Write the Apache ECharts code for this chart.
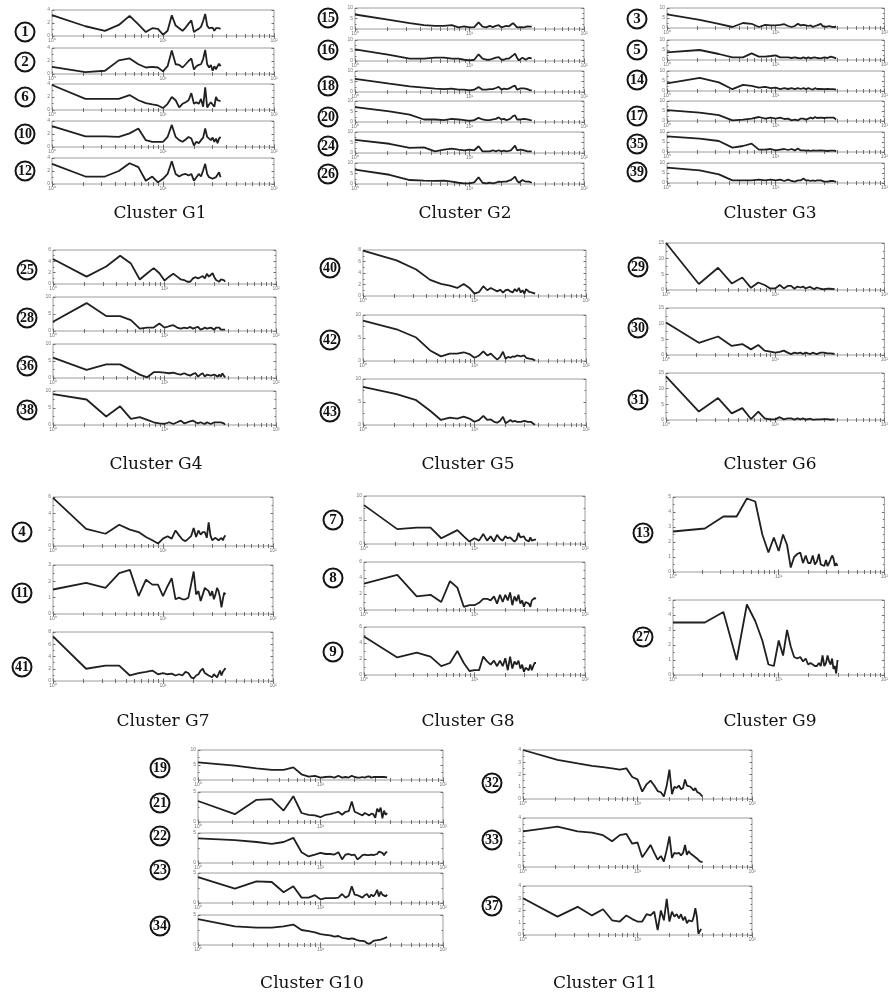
<!DOCTYPE html>
<html>
<head>
<meta charset="utf-8">
<script src="https://cdn.jsdelivr.net/npm/echarts@6/dist/echarts.min.js"></script>
<style>
  html, body { margin: 0; padding: 0; background: #fff; }
  #chart { width: 891px; height: 996px; }
</style>
</head>
<body>
<div id="chart"></div>
<script>
/* ----------------------------- data ----------------------------- */
// frequency index (log axis, 10^0 .. 10^2)
const freqs = [1, 2, 3, 4, 5, 6, 7, 8, 9, 10, 11, 12, 13, 14, 15, 16, 17, 18, 19, 20,
  21, 22, 23, 24, 25, 26, 27, 28, 29, 30, 31, 32, 33, 34, 35, 36, 37];

const xTickLabels = ['10\u2070', '10\u00b9', '10\u00b2'];

// Cluster G1
const p1 = [3.2, 1.5, 0.8, 1.7, 3.1, 1.8, 0.6, 1.2, 1.1, 0.2, 0.8, 3.2, 1.6, 1.2, 0.8, 1.3, 1.9, 2.4, 0.6, 0.9, 1.1, 1.4, 2.3, 3.4, 1.6, 1.2, 0.9, 1.3, 0.8, 1.2, 1.0, 1.2, 1.1];
const p2 = [1.1, 0.3, 0.5, 2.1, 2.4, 1.5, 1.0, 1.1, 1.0, 0.4, 1.2, 3.6, 1.5, 1.4, 1.0, 1.5, 2.0, 2.4, 0.7, 1.2, 1.4, 1.5, 2.3, 3.7, 1.5, 1.0, 1.4, 0.5, 1.2, 0.7, 1.2, 1.6, 1.2];
const p6 = [3.85, 1.7, 1.7, 1.7, 2.3, 1.5, 1.05, 0.85, 0.7, 0.3, 0.95, 2.0, 1.5, 0.4, 0.95, 1.2, 1.5, 2.6, 0.95, 1.2, 0.95, 1.7, 0.5, 3.5, 0.4, 0.85, 1.2, 1.05, 0.5, 2.0, 1.5, 1.2, 1.35];
const p10 = [3.2, 1.65, 1.65, 1.55, 2.1, 2.85, 1.05, 0.8, 0.8, 0.8, 1.55, 3.4, 1.55, 1.05, 0.8, 1.15, 1.55, 1.3, 0.25, 0.8, 0.6, 1.05, 1.45, 2.85, 1.55, 1.65, 1.05, 1.45, 0.8, 1.3, 0.6, 1.3, 1.55];
const p12 = [3.1, 1.15, 1.15, 2.0, 3.2, 2.6, 0.5, 1.15, 0.25, 0.8, 1.55, 3.5, 1.55, 1.15, 1.45, 1.55, 1.3, 1.55, 0.5, 1.05, 1.55, 1.15, 2.1, 3.1, 1.55, 1.05, 1.05, 0.8, 0.6, 1.05, 0.95, 1.8, 1.05];

// Cluster G2
const p15 = [6.9, 4.3, 2.8, 1.8, 1.5, 1.5, 1.8, 0.8, 1.2, 0.8, 0.9, 3.1, 1.1, 0.8, 1.5, 0.9, 1.5, 1.8, 0.8, 1.1, 1.5, 1.2, 2.0, 2.8, 1.8, 0.8, 1.2, 0.9, 1.5, 0.8, 1.5, 1.2, 1.5, 1.1, 1.1];
const p16 = [5.5, 2.9, 1.1, 1.1, 1.6, 1.6, 1.1, 1.1, 0.6, 0.3, 0.6, 3.2, 1.1, 0.6, 0.6, 1.1, 1.6, 1.9, 0.6, 0.6, 1.1, 1.1, 1.9, 2.7, 3.5, 1.6, 0.3, 0.6, 1.6, 0.9, 0.6, 1.3, 1.5, 1.3, 1.3];
const p18 = [6.3, 4.0, 2.7, 2.1, 1.6, 1.4, 1.6, 1.1, 1.1, 0.8, 1.1, 2.4, 1.1, 1.1, 1.4, 1.4, 1.9, 2.4, 1.1, 1.6, 1.4, 1.6, 2.1, 2.7, 3.0, 1.1, 1.4, 1.7, 2.1, 1.7, 1.6, 1.4, 1.1, 0.8, 0.8];
const p20 = [7.1, 5.1, 3.5, 1.2, 1.2, 0.9, 1.5, 1.2, 0.9, 0.5, 0.9, 2.0, 1.2, 0.9, 0.9, 1.2, 1.5, 2.2, 1.2, 1.5, 0.9, 1.2, 1.8, 2.8, 3.2, 1.2, 0.9, 1.2, 1.8, 1.5, 2.0, 1.2, 0.9, 0.9, 0.8];
const p24 = [6.3, 4.4, 2.4, 2.7, 0.8, 1.6, 2.1, 1.6, 1.3, 1.6, 1.3, 3.2, 0.8, 0.8, 0.8, 1.3, 0.8, 1.3, 0.8, 1.1, 0.8, 1.0, 1.3, 2.4, 3.5, 1.3, 0.8, 1.6, 2.4, 1.3, 0.6, 0.8, 1.3, 0.8, 0.8];
const p26 = [6.8, 4.4, 1.9, 1.6, 1.5, 1.6, 1.1, 0.6, 0.3, 0.3, 0.8, 3.2, 0.6, 0.3, 0.6, 0.3, 0.6, 1.1, 1.0, 1.1, 1.1, 1.6, 1.9, 2.7, 3.5, 1.6, 0.6, 1.1, 1.9, 2.7, 1.1, 1.9, 1.1, 0.6, 0.6];

// Cluster G3
const p3 = [6.8, 4.1, 2.1, 0.5, 2.5, 2.1, 0.5, 1.6, 1.3, 1.3, 1.6, 1.9, 1.0, 0.5, 1.0, 2.1, 1.3, 1.6, 1.3, 1.0, 1.3, 0.5, 1.0, 1.3, 1.0, 2.1, 1.0, 1.3, 0.6, 1.3, 1.0, 1.6, 0.6, 1.0, 0.5, 0.8];
const p5 = [3.8, 5.0, 3.0, 1.3, 1.3, 3.3, 1.7, 1.7, 2.0, 2.3, 1.3, 1.3, 1.3, 1.0, 1.3, 1.0, 0.8, 1.3, 0.8, 1.3, 0.8, 1.2, 1.3, 1.0, 2.0, 0.8, 1.7, 1.3, 0.7, 1.0, 0.8, 1.7, 1.0, 1.3, 0.7, 0.8];
const p14 = [3.8, 6.6, 4.3, 0.9, 3.1, 2.6, 1.7, 2.1, 1.4, 1.7, 0.9, 1.4, 1.0, 1.4, 0.9, 1.4, 1.0, 1.4, 0.9, 1.4, 1.0, 0.7, 1.4, 1.0, 1.7, 1.0, 1.4, 0.9, 0.7, 1.0, 0.5, 0.9, 0.7, 0.9, 0.5, 0.7];
const p17 = [5.4, 4.2, 2.9, 0.3, 0.7, 1.2, 2.0, 1.2, 1.7, 1.2, 1.7, 1.0, 1.2, 0.3, 0.7, 0.3, 1.2, 1.2, 0.7, 1.2, 1.7, 1.2, 2.0, 1.5, 1.2, 1.7, 2.0, 1.5, 1.0, 1.7, 2.0, 1.7, 1.2, 1.7, 1.0, 0.8];
const p35 = [7.8, 6.7, 5.5, 2.2, 3.0, 4.2, 1.2, 1.2, 1.5, 0.8, 1.2, 1.5, 1.0, 1.5, 0.8, 1.7, 0.8, 0.8, 0.7, 0.8, 0.5, 0.8, 0.7, 0.7, 0.5, 0.8, 0.7, 0.7, 0.7, 0.5, 0.7, 0.7, 0.5, 0.7, 0.5, 0.5];
const p39 = [7.7, 6.3, 4.3, 1.3, 1.3, 1.3, 1.7, 1.3, 1.7, 1.3, 1.7, 1.0, 1.7, 1.0, 0.7, 1.3, 1.3, 2.2, 1.3, 1.3, 1.0, 1.3, 1.0, 1.3, 0.8, 1.3, 1.2, 0.7, 1.3, 0.7, 1.3, 1.0, 0.5, 1.0, 0.7, 0.5];

// Cluster G4
const p25 = [4.4, 1.3, 3.1, 5.0, 3.6, 0.8, 1.9, 2.8, 1.9, 0.6, 1.3, 1.8, 1.3, 0.8, 0.7, 0.4, 0.4, 1.0, 1.2, 1.0, 1.2, 1.4, 1.0, 1.8, 1.3, 1.0, 1.9, 1.2, 0.7, 1.0, 0.4, 0.8, 0.6, 0.7, 0.4];
const p28 = [2.7, 8.2, 4.4, 4.4, 3.2, 0.7, 1.0, 1.0, 2.2, 1.0, 1.4, 1.7, 1.0, 0.7, 1.0, 0.8, 1.2, 0.7, 1.0, 1.2, 0.4, 0.6, 1.0, 0.7, 0.4, 1.0, 0.6, 0.4, 1.0, 0.6, 1.0, 0.4, 0.6, 0.4, 0.4];
const p36 = [6.0, 2.4, 4.0, 4.0, 2.4, 1.0, 0.2, 1.7, 1.7, 1.6, 1.4, 1.6, 1.2, 1.0, 1.4, 1.0, 0.7, 1.2, 1.4, 0.4, 1.0, 1.4, 0.4, 1.0, 1.0, 0.7, 1.0, 1.0, 0.7, 0.4, 1.0, 0.4, 1.4, 0.7, 0.2];
const p38 = [9.1, 7.5, 2.5, 5.5, 1.8, 2.3, 1.5, 0.8, 0.5, 0.3, 0.8, 0.3, 0.8, 1.3, 0.5, 0.8, 1.1, 1.3, 0.8, 0.5, 0.8, 0.5, 0.3, 0.8, 0.5, 0.3, 0.5, 0.8, 0.5, 0.8, 0.3, 0.8, 0.3, 0.5, 0.1];

// Cluster G5
const p40 = [7.9, 6.2, 4.6, 2.8, 2.1, 1.8, 1.4, 2.1, 1.4, 0.4, 0.7, 1.7, 1.0, 1.4, 1.1, 0.8, 1.1, 0.6, 1.0, 1.1, 0.8, 0.6, 1.2, 0.8, 1.4, 0.6, 1.0, 0.4, 1.2, 1.4, 0.7, 1.0, 0.6, 0.4, 0.4];
const p42 = [8.8, 6.9, 5.1, 2.3, 1.0, 1.6, 1.6, 1.9, 1.5, 0.7, 1.2, 2.1, 1.2, 1.6, 0.9, 0.3, 0.9, 2.0, 0.5, 0.9, 0.7, 1.0, 0.9, 1.2, 0.9, 1.0, 0.7, 1.2, 0.7, 1.0, 0.5, 0.9, 0.4, 0.3, 0.1];
const p43 = [8.3, 6.7, 5.4, 3.1, 1.1, 1.6, 1.4, 1.8, 1.4, 0.7, 1.1, 2.0, 1.1, 1.2, 0.7, 0.5, 0.9, 1.8, 0.4, 0.7, 1.1, 0.7, 0.9, 0.7, 1.1, 0.7, 1.1, 0.9, 1.2, 0.7, 0.9, 0.7, 0.5, 0.2, 0.1];

// Cluster G6
const p29 = [15.0, 1.9, 7.1, 2.1, 4.0, 0.7, 2.4, 1.6, 0.5, 0.5, 1.6, 0.5, 1.3, 1.3, 0.4, 1.1, 0.8, 1.1, 0.5, 0.8, 1.0, 0.5, 0.3, 0.8, 0.8, 0.4, 0.5, 0.2, 0.7, 0.4, 0.5, 0.4, 0.6, 0.3, 0.4];
const p30 = [10.4, 3.9, 5.9, 2.9, 3.5, 1.8, 3.2, 1.4, 1.1, 0.75, 1.0, 1.4, 0.75, 0.3, 0.75, 0.5, 0.75, 0.3, 0.75, 0.5, 0.3, 0.75, 0.5, 0.3, 0.5, 0.75, 0.3, 0.75, 0.4, 0.5, 0.3, 0.5, 0.3, 0.4, 0.3];
const p31 = [13.9, 2.7, 7.0, 2.1, 3.8, 0.3, 2.7, 0.5, 0.2, 0.2, 0.9, 0.2, 0.5, 0.5, 0.1, 0.5, 0.2, 0.5, 0.1, 0.3, 0.4, 0.1, 0.1, 0.2, 0.4, 0.2, 0.1, 0.3, 0.1, 0.3, 0.2, 0.1, 0.3, 0.2, 0.2];

// Cluster G7
const p4 = [5.9, 2.1, 1.5, 2.6, 2.0, 1.7, 1.1, 0.7, 0.3, 0.9, 1.2, 0.9, 1.9, 1.3, 0.8, 0.6, 0.9, 1.2, 2.2, 1.1, 1.9, 1.4, 1.7, 1.7, 1.0, 2.9, 1.3, 0.7, 0.8, 1.0, 1.1, 0.7, 0.5, 1.0, 0.7, 1.1, 1.3];
const p11 = [1.5, 1.9, 1.6, 2.5, 2.7, 1.1, 2.1, 1.8, 1.8, 1.1, 1.7, 2.2, 0.9, 1.0, 0.9, 0.9, 1.0, 1.8, 2.6, 1.2, 1.4, 0.8, 1.2, 1.6, 1.7, 1.4, 1.1, 1.4, 0.9, 1.2, 1.6, 1.4, 1.0, 0.4, 0.9, 1.3, 1.2];
const p41 = [7.3, 2.0, 2.5, 2.5, 0.9, 1.3, 1.5, 1.7, 1.1, 1.3, 1.1, 1.2, 0.9, 1.1, 0.9, 1.5, 1.3, 0.6, 0.4, 0.9, 1.1, 1.7, 2.0, 1.3, 1.6, 0.9, 1.2, 0.6, 1.1, 0.9, 0.6, 0.4, 1.7, 0.9, 1.5, 1.3, 2.1];

// Cluster G8
const p7 = [8.1, 3.1, 3.4, 3.4, 1.2, 2.1, 2.9, 1.6, 0.5, 1.2, 0.7, 2.1, 0.7, 1.6, 0.5, 1.9, 1.1, 0.7, 1.6, 1.2, 1.4, 0.9, 0.5, 0.9, 2.3, 1.4, 1.2, 1.6, 0.9, 1.1, 0.5, 1.4, 0.7, 0.5, 0.9, 0.9];
const p8 = [3.3, 4.4, 1.7, 1.9, 1.0, 3.6, 2.8, 0.4, 0.6, 0.6, 0.9, 1.4, 1.4, 1.2, 1.7, 0.8, 1.9, 1.0, 1.9, 1.2, 2.2, 0.6, 1.7, 1.1, 1.9, 0.8, 1.2, 0.4, 1.0, 1.2, 0.8, 0.4, 1.2, 1.1, 1.5, 1.4];
const p9 = [4.8, 2.2, 2.8, 2.3, 1.1, 1.5, 3.0, 1.5, 0.5, 0.6, 0.6, 2.3, 1.7, 1.3, 1.8, 1.1, 1.8, 1.1, 2.1, 0.6, 2.3, 0.8, 1.7, 1.3, 1.8, 0.8, 1.3, 0.4, 0.9, 1.1, 0.6, 1.3, 0.6, 1.1, 1.5, 1.5];

// Cluster G9
const p13 = [2.7, 2.9, 3.7, 3.7, 4.9, 4.7, 2.5, 1.3, 2.3, 1.4, 2.5, 1.8, 0.3, 1.0, 1.2, 1.3, 0.6, 1.1, 0.6, 0.6, 1.1, 0.5, 0.7, 1.2, 0.5, 0.6, 0.4, 0.8, 0.4, 0.6, 0.7, 1.1, 0.9, 0.4, 0.6, 0.4];
const p27 = [3.5, 3.5, 4.2, 1.0, 4.7, 3.6, 2.3, 0.7, 0.6, 2.3, 1.3, 3.0, 1.9, 1.2, 1.1, 1.2, 0.9, 1.1, 0.7, 0.8, 0.7, 0.6, 0.6, 0.8, 0.6, 1.3, 0.6, 0.8, 1.3, 0.9, 0.7, 1.1, 0.4, 0.6, 0.1, 1.0];

// Cluster G10
const p19 = [5.9, 4.8, 3.9, 3.4, 3.4, 4.2, 1.9, 1.1, 1.4, 0.8, 1.0, 1.1, 0.8, 1.4, 0.8, 1.0, 0.8, 1.4, 1.0, 0.8, 0.8, 1.0, 0.8, 1.1, 1.2, 0.8, 1.0, 0.8, 1.0, 0.9, 1.0, 0.9, 1.0, 0.9, 0.9];
const p21 = [3.5, 1.3, 3.7, 3.8, 1.9, 4.3, 1.5, 1.2, 1.1, 0.8, 1.2, 1.3, 1.5, 1.7, 1.2, 1.7, 1.8, 3.4, 1.7, 1.5, 1.3, 1.1, 1.5, 1.3, 1.1, 1.4, 1.3, 0.7, 2.2, 1.7, 2.4, 0.6, 1.9, 1.2, 1.5];
const p22 = [4.1, 3.8, 3.5, 3.2, 3.5, 4.2, 1.8, 1.1, 1.4, 1.7, 1.5, 1.5, 1.4, 1.8, 0.6, 1.4, 1.5, 1.3, 1.4, 0.6, 0.9, 1.3, 1.4, 1.3, 1.3, 1.4, 1.3, 1.1, 1.5, 1.9, 2.1, 1.7, 1.3, 1.7, 1.9];
const p23 = [4.3, 2.4, 3.6, 3.5, 1.8, 2.8, 0.9, 0.9, 1.3, 0.6, 0.8, 0.8, 0.8, 0.9, 1.5, 0.9, 1.2, 2.8, 1.4, 1.3, 1.1, 0.9, 1.3, 1.5, 0.9, 1.4, 1.1, 1.5, 2.2, 1.1, 1.9, 1.4, 1.5, 1.1, 1.4];
const p34 = [4.3, 3.1, 2.9, 2.9, 3.1, 3.4, 2.5, 2.3, 2.1, 1.8, 1.7, 1.6, 1.4, 1.5, 1.2, 1.1, 1.0, 1.1, 1.0, 0.8, 0.7, 0.7, 0.6, 0.3, 0.2, 0.4, 0.7, 0.7, 0.8, 0.8, 0.9, 1.0, 1.1, 1.2, 1.3];

// Cluster G11
const p32 = [4.0, 3.2, 2.9, 2.7, 2.6, 2.5, 2.4, 2.5, 1.8, 1.6, 0.6, 1.2, 1.5, 1.1, 0.65, 0.55, 0.2, 1.1, 2.4, 0.4, 1.0, 0.9, 1.1, 0.8, 0.9, 1.6, 1.1, 1.2, 1.0, 1.1, 0.7, 0.9, 0.6, 0.65, 0.45, 0.3, 0.2];
const p33 = [2.9, 3.3, 2.9, 2.8, 2.6, 2.1, 2.6, 2.7, 1.9, 2.0, 0.8, 1.3, 1.8, 1.15, 0.6, 0.9, 0.45, 1.4, 2.5, 0.75, 1.15, 1.1, 1.15, 0.95, 1.15, 1.8, 1.0, 1.3, 1.1, 1.2, 0.9, 1.0, 0.7, 0.6, 0.45, 0.3, 0.4];
const p37 = [3.0, 1.5, 2.3, 1.6, 2.1, 1.2, 1.1, 1.6, 1.3, 1.1, 1.1, 1.7, 1.6, 1.9, 0.4, 2.0, 1.2, 2.95, 1.1, 1.9, 1.5, 1.7, 1.35, 1.7, 1.2, 1.5, 0.95, 1.2, 1.1, 1.1, 1.5, 2.2, 1.5, 0.1, 0.3, 0.5];

const panelData = {
  1: p1, 2: p2, 3: p3, 4: p4, 5: p5, 6: p6, 7: p7, 8: p8, 9: p9, 10: p10,
  11: p11, 12: p12, 13: p13, 14: p14, 15: p15, 16: p16, 17: p17, 18: p18, 19: p19, 20: p20,
  21: p21, 22: p22, 23: p23, 24: p24, 25: p25, 26: p26, 27: p27, 28: p28, 29: p29, 30: p30,
  31: p31, 32: p32, 33: p33, 34: p34, 35: p35, 36: p36, 37: p37, 38: p38, 39: p39, 40: p40,
  41: p41, 42: p42, 43: p43
};

const clusterNames = ['Cluster G1', 'Cluster G2', 'Cluster G3', 'Cluster G4', 'Cluster G5', 'Cluster G6',
  'Cluster G7', 'Cluster G8', 'Cluster G9', 'Cluster G10', 'Cluster G11'];

const clusterPanels = [
  [1, 2, 6, 10, 12],
  [15, 16, 18, 20, 24, 26],
  [3, 5, 14, 17, 35, 39],
  [25, 28, 36, 38],
  [40, 42, 43],
  [29, 30, 31],
  [4, 11, 41],
  [7, 8, 9],
  [13, 27],
  [19, 21, 22, 23, 34],
  [32, 33, 37]
];

// y axis [max, tick step] per panel
const yTicks = {
  1: [4, 2], 2: [4, 2], 6: [4, 2], 10: [4, 2], 12: [4, 2],
  15: [10, 5], 16: [10, 5], 18: [10, 5], 20: [10, 5], 24: [10, 5], 26: [10, 5],
  3: [10, 5], 5: [10, 5], 14: [10, 5], 17: [10, 5], 35: [10, 5], 39: [10, 5],
  25: [6, 2], 28: [10, 5], 36: [10, 5], 38: [10, 5],
  40: [8, 2], 42: [10, 5], 43: [10, 5],
  29: [15, 5], 30: [15, 5], 31: [15, 5],
  4: [6, 2], 11: [3, 1], 41: [8, 2],
  7: [10, 5], 8: [6, 2], 9: [6, 2],
  13: [5, 1], 27: [5, 1],
  19: [10, 5], 21: [5, 5], 22: [5, 5], 23: [5, 5], 34: [5, 5],
  32: [4, 1], 33: [4, 1], 37: [4, 1]
};

/* ---------------------------- layout ---------------------------- */
const layout = [
  { left: 52, width: 222, h: 26, tops: [10, 48, 84, 121, 158], cx: 25, cy: [32, 62, 97, 134, 171], label: [160, 214] },
  { left: 355, width: 229, h: 21, tops: [8, 40, 71, 101, 132, 163], cx: 328, cy: [18, 50, 86, 117, 146, 174], label: [465, 214] },
  { left: 667, width: 220, h: 20, tops: [8, 40, 71, 101, 132, 163], cx: 637, cy: [19, 50, 80, 116, 144, 172], label: [770, 214] },
  { left: 53, width: 223, h: 34, tops: [250, 297, 344, 391], cx: 27, cy: [270, 318, 366, 410], label: [156, 465] },
  { left: 363, width: 223, h: 46, tops: [250, 315, 379], cx: 330, cy: [268, 340, 412], label: [468, 465] },
  { left: 666, width: 228, h: 47, tops: [243, 308, 373], cx: 638, cy: [267, 328, 400], label: [770, 465] },
  { left: 53, width: 220, h: 49, tops: [497, 565, 632], cx: 22, cy: [532, 593, 667], label: [163, 722] },
  { left: 364, width: 221, h: 48, tops: [496, 562, 627], cx: 333, cy: [520, 578, 652], label: [468, 722] },
  { left: 673, width: 221, h: 75, tops: [497, 600], cx: 643, cy: [533, 637], label: [770, 722] },
  { left: 198, width: 245, h: 30, tops: [750, 792, 833, 873, 915], cx: 160, cy: [768, 803, 836, 870, 926], label: [312, 984] },
  { left: 523, width: 229, h: 49, tops: [750, 818, 886], cx: 492, cy: [783, 840, 906], label: [605, 984] }
];

/* ----------------------------- chart ---------------------------- */
const chart = echarts.init(document.getElementById('chart'), null, { renderer: 'canvas' });

const grid = [];
const xAxis = [];
const yAxis = [];
const series = [];
const graphic = [];

const tickStyle = { color: '#6f6f6f', width: 1 };

layout.forEach((g, ci) => {
  clusterPanels[ci].forEach((n, j) => {
    const gi = grid.length;
    grid.push({
      left: g.left,
      top: g.tops[j],
      width: g.width,
      height: g.h,
      show: true,
      borderColor: '#9c9c9c',
      borderWidth: 1
    });

    const xBase = {
      type: 'log',
      logBase: 10,
      min: 1,
      max: 100,
      gridIndex: gi,
      axisLine: { show: false },
      splitLine: { show: false },
      axisTick: { inside: true, length: 2.5, lineStyle: tickStyle },
      minorTick: { show: true, splitNumber: 10, length: 2, lineStyle: tickStyle }
    };
    xAxis.push({
      ...xBase,
      position: 'bottom',
      axisLabel: {
        fontSize: 5,
        color: '#777',
        margin: 2,
        formatter: v => xTickLabels[Math.round(Math.log10(v))]
      }
    });
    xAxis.push({ ...xBase, position: 'top', axisLabel: { show: false } });

    const [yMax, yStep] = yTicks[n];
    const yBase = {
      type: 'value',
      min: 0,
      max: yMax,
      interval: yStep,
      gridIndex: gi,
      axisLine: { show: false },
      splitLine: { show: false },
      axisTick: { inside: true, length: 2.5, lineStyle: tickStyle },
      minorTick: { show: true, splitNumber: 2, length: 1.5, lineStyle: tickStyle }
    };
    yAxis.push({
      ...yBase,
      position: 'left',
      axisLabel: { fontSize: 5, color: '#777', margin: 2 }
    });
    yAxis.push({ ...yBase, position: 'right', axisLabel: { show: false } });

    const vals = panelData[n];
    series.push({
      type: 'line',
      xAxisIndex: 2 * gi,
      yAxisIndex: 2 * gi,
      data: vals.map((v, i) => [freqs[i], v]),
      showSymbol: false,
      symbol: 'none',
      silent: true,
      lineStyle: { color: '#202020', width: 1.8 }
    });

    // circled panel number
    graphic.push({
      type: 'circle',
      shape: { cx: g.cx, cy: g.cy[j], r: 9.5 },
      style: { fill: '#fff', stroke: '#151515', lineWidth: 2 }
    });
    graphic.push({
      type: 'text',
      x: g.cx,
      y: g.cy[j] + 0.5,
      style: {
        text: String(n),
        font: n < 10 ? 'bold 15px "Liberation Serif"' : 'bold 14px "Liberation Serif"',
        fill: '#111',
        textAlign: 'center',
        textVerticalAlign: 'middle'
      }
    });
  });

  graphic.push({
    type: 'text',
    x: g.label[0],
    y: g.label[1],
    style: {
      text: clusterNames[ci],
      font: '17px "DejaVu Serif"',
      fill: '#111',
      textAlign: 'center',
      textVerticalAlign: 'middle'
    }
  });
});

chart.setOption({
  backgroundColor: '#fff',
  animation: false,
  grid,
  xAxis,
  yAxis,
  series,
  graphic
});
</script>
</body>
</html>
